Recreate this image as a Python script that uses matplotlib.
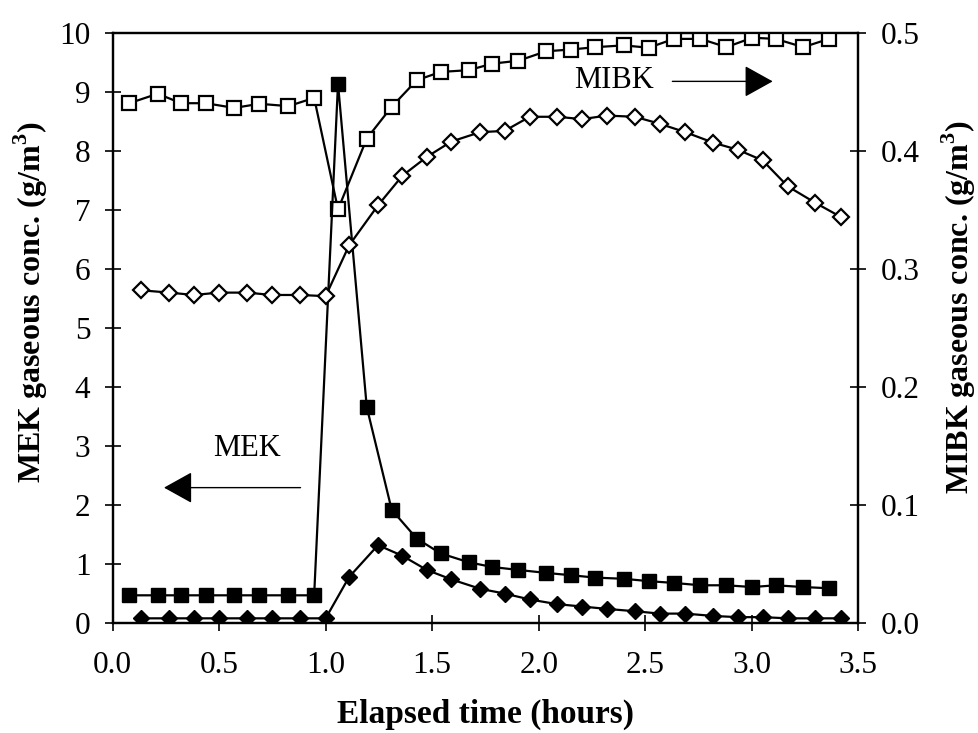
import matplotlib
matplotlib.use("Agg")
import matplotlib.pyplot as plt
from matplotlib import rc

rc('font', family='Liberation Serif', size=22)

# times (hours) of the square and diamond samples
t_sq = [0.078, 0.211, 0.322, 0.437, 0.571, 0.689, 0.825, 0.946, 1.058, 1.193,
        1.310, 1.428, 1.540, 1.672, 1.782, 1.905, 2.035, 2.153, 2.267, 2.400,
        2.517, 2.635, 2.760, 2.882, 3.003, 3.113, 3.243, 3.363]
t_di = [0.132, 0.265, 0.382, 0.498, 0.631, 0.747, 0.880, 1.000, 1.110, 1.246,
        1.360, 1.475, 1.590, 1.726, 1.840, 1.958, 2.087, 2.204, 2.320, 2.452,
        2.570, 2.688, 2.821, 2.936, 3.052, 3.170, 3.300, 3.420]

# MEK (left axis, g/m3)
mek_open = [8.81, 8.97, 8.81, 8.81, 8.73, 8.80, 8.76, 8.90, 7.01, 8.21,
            8.75, 9.20, 9.34, 9.37, 9.48, 9.53, 9.69, 9.72, 9.76, 9.79,
            9.75, 9.90, 9.90, 9.76, 9.92, 9.90, 9.76, 9.90]
mek_filled = [0.47, 0.47, 0.47, 0.47, 0.47, 0.47, 0.47, 0.47, 9.14, 3.66,
              1.92, 1.43, 1.18, 1.03, 0.95, 0.90, 0.85, 0.81, 0.77, 0.75,
              0.71, 0.68, 0.64, 0.64, 0.61, 0.64, 0.61, 0.59]

# MIBK (right axis, g/m3)
mibk_open = [0.282, 0.280, 0.278, 0.280, 0.280, 0.278, 0.278, 0.277, 0.320, 0.354,
             0.379, 0.395, 0.408, 0.416, 0.417, 0.429, 0.429, 0.427, 0.430, 0.429,
             0.423, 0.416, 0.407, 0.401, 0.392, 0.370, 0.356, 0.344]
mibk_filled = [0.004, 0.004, 0.004, 0.004, 0.004, 0.004, 0.004, 0.004, 0.039, 0.066,
               0.057, 0.045, 0.037, 0.029, 0.025, 0.020, 0.016, 0.014, 0.012, 0.010,
               0.008, 0.008, 0.006, 0.005, 0.005, 0.004, 0.004, 0.004]

fig = plt.figure(figsize=(9.79, 7.33), dpi=100)
ax = fig.add_axes([0.1151, 0.150, 0.7614, 0.805])
ax2 = ax.twinx()

lw = 1.6
ax.plot(t_sq, mek_open, color='black', lw=lw, marker='s', ms=10,
        mfc='white', mec='black', mew=1.6, zorder=3)
ax.plot(t_sq, mek_filled, color='black', lw=lw, marker='s', ms=10,
        mfc='black', mec='black', zorder=3)
ax2.plot(t_di, mibk_open, color='black', lw=lw, marker='D', ms=8,
         mfc='white', mec='black', mew=1.6, zorder=3)
ax2.plot(t_di, mibk_filled, color='black', lw=lw, marker='D', ms=8,
         mfc='black', mec='black', zorder=3)

ax.set_xlim(0, 3.5)
ax.set_ylim(0, 10)
ax2.set_ylim(0, 0.5)
ax.set_xticks([0.0, 0.5, 1.0, 1.5, 2.0, 2.5, 3.0, 3.5])
ax.set_xticklabels(['0.0', '0.5', '1.0', '1.5', '2.0', '2.5', '3.0', '3.5'])
ax.set_yticks(range(0, 11))
ax2.set_yticks([0.0, 0.1, 0.2, 0.3, 0.4, 0.5])
ax2.set_yticklabels(['0.0', '0.1', '0.2', '0.3', '0.4', '0.5'])

ax.tick_params(axis='both', direction='inout', length=12, width=1.2, labelsize=22.5)
ax.tick_params(axis='x', pad=14)
ax.tick_params(axis='y', pad=10)
ax2.tick_params(axis='y', direction='inout', length=12, width=1.2, labelsize=22.5, pad=10)
for a in (ax, ax2):
    for s in a.spines.values():
        s.set_linewidth(1.6)

ax.set_xlabel('Elapsed time (hours)', fontweight='bold', fontsize=24, va='center')
ax.xaxis.set_label_coords(0.5, -0.155)
ax.set_ylabel('MEK gaseous conc. (g/m$^\\mathregular{3}$)', fontweight='bold',
              fontsize=23, va='center')
ax.yaxis.set_label_coords(-0.110, 0.544)
ax2.set_ylabel('MIBK gaseous conc. (g/m$^\\mathregular{3}$)', fontweight='bold',
               fontsize=23, va='center', rotation=90)
ax2.yaxis.set_label_coords(1.135, 0.536)

arrow = dict(arrowstyle='-|>,head_length=1.8,head_width=1.0', mutation_scale=10,
             color='black', lw=1.0, shrinkA=0, shrinkB=0)
ax.text(2.353, 9.20, 'MIBK', ha='center', va='center', fontsize=22)
ax.annotate('', xy=(3.099, 9.18), xytext=(2.628, 9.18), arrowprops=arrow)
ax.text(0.629, 2.96, 'MEK', ha='center', va='center', fontsize=22)
ax.annotate('', xy=(0.241, 2.295), xytext=(0.882, 2.295), arrowprops=arrow)

fig.savefig('out.png', dpi=100)
